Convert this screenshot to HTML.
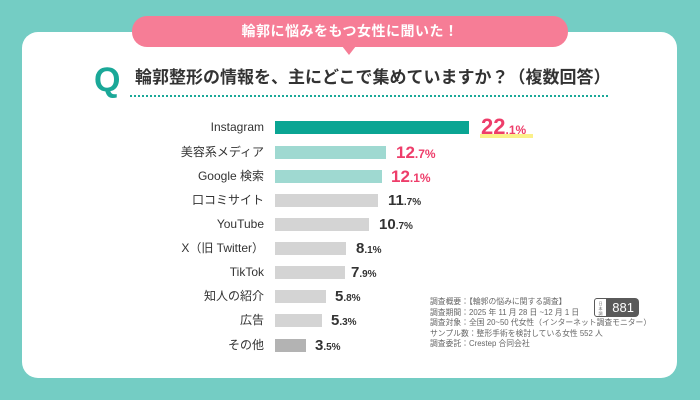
<!DOCTYPE html><html><head><meta charset="utf-8"><style>
*{margin:0;padding:0;box-sizing:border-box}
body{width:700px;height:400px;background:#74cdc4;position:relative;overflow:hidden;font-family:"Liberation Sans","Noto Sans CJK JP",sans-serif}
.card{position:absolute;left:22px;top:32px;width:655px;height:346px;background:#fff;border-radius:16px}
.ban{position:absolute;left:132px;top:16px;width:436px;height:31px;background:#f67d96;border-radius:15px;color:#fff;font-size:14px;font-weight:bold;text-align:center;line-height:31px;letter-spacing:0.5px}
.tail{position:absolute;left:342px;top:46px;width:0;height:0;border-left:7px solid transparent;border-right:7px solid transparent;border-top:9px solid #f67d96}
.q{position:absolute;left:94px;top:60px;font-size:34px;font-weight:bold;color:#1aa898;line-height:40px}
.qt{position:absolute;left:135px;top:66px;font-size:17px;font-weight:bold;color:#333;line-height:24px}
.dots{position:absolute;left:130px;top:95px;width:478px;border-top:2px dotted #1aa898}
.lab{position:absolute;right:436px;font-size:12px;color:#333;line-height:16px;white-space:nowrap}
.bar{position:absolute;left:275px;height:13px}
.val{position:absolute;font-weight:bold;color:#333;font-size:15px;line-height:18px;white-space:nowrap}
.val small{font-size:10px}
.pk{color:#ee3d6a}
.note{position:absolute;left:430px;top:297px;font-size:7.8px;color:#666;line-height:10.6px;white-space:nowrap}
.badge{position:absolute;left:594px;top:298px;width:45px;height:19px;background:#5a5a5a;border-radius:4px;color:#fff;font-size:13px;line-height:19px;text-align:right;padding-right:5px}
.badge span{position:absolute;left:0;top:0;width:13px;height:19px;background:#fff;border:1px solid #5a5a5a;border-radius:3px 0 0 3px;color:#666;font-size:4px;line-height:5px;text-align:center;padding-top:2px}
</style></head><body>
<div class="card"></div>
<div class="ban">輪郭に悩みをもつ女性に聞いた！</div><div class="tail"></div>
<div class="q">Q</div>
<div class="qt">輪郭整形の情報を、主にどこで集めていますか？（複数回答）</div>
<div class="dots"></div>

<div class="lab" style="top:119px">Instagram</div>
<div class="bar" style="top:121px;width:194px;background:#0aa593"></div>
<div style="position:absolute;left:480px;top:134px;width:53px;height:4px;background:#fbf08a"></div>
<div class="val pk" style="left:481px;top:115px;font-size:22px;line-height:24px">22<small style="font-size:12px">.1%</small></div>

<div class="lab" style="top:144px">美容系メディア</div>
<div class="bar" style="top:146px;width:111px;background:#9fd9d1"></div>
<div class="val pk" style="left:396px;top:144px;font-size:17px">12<small style="font-size:12px">.7%</small></div>

<div class="lab" style="top:168px">Google 検索</div>
<div class="bar" style="top:170px;width:107px;background:#9fd9d1"></div>
<div class="val pk" style="left:391px;top:168px;font-size:17px">12<small style="font-size:12px">.1%</small></div>

<div class="lab" style="top:192px">口コミサイト</div>
<div class="bar" style="top:194px;width:103px;background:#d4d4d4"></div>
<div class="val" style="left:388px;top:192px">11<small>.7%</small></div>

<div class="lab" style="top:216px">YouTube</div>
<div class="bar" style="top:218px;width:94px;background:#d4d4d4"></div>
<div class="val" style="left:379px;top:216px">10<small>.7%</small></div>

<div class="lab" style="top:240px">X（旧 Twitter）</div>
<div class="bar" style="top:242px;width:71px;background:#d4d4d4"></div>
<div class="val" style="left:356px;top:240px">8<small>.1%</small></div>

<div class="lab" style="top:264px">TikTok</div>
<div class="bar" style="top:266px;width:70px;background:#d4d4d4"></div>
<div class="val" style="left:351px;top:264px">7<small>.9%</small></div>

<div class="lab" style="top:288px">知人の紹介</div>
<div class="bar" style="top:290px;width:51px;background:#d4d4d4"></div>
<div class="val" style="left:335px;top:288px">5<small>.8%</small></div>

<div class="lab" style="top:312px">広告</div>
<div class="bar" style="top:314px;width:47px;background:#d4d4d4"></div>
<div class="val" style="left:331px;top:312px">5<small>.3%</small></div>

<div class="lab" style="top:337px">その他</div>
<div class="bar" style="top:339px;width:31px;background:#b3b3b3"></div>
<div class="val" style="left:315px;top:337px">3<small>.5%</small></div>

<div class="note">調査概要：【輪郭の悩みに関する調査】<br>調査期間：2025 年 11 月 28 日 ~12 月 1 日<br>調査対象：全国 20~50 代女性（インターネット調査モニター）<br>サンプル数：整形手術を検討している女性 552 人<br>調査委託：Crestep 合同会社</div>
<div class="badge"><span>日<br>本<br>調</span>881</div>
</body></html>
